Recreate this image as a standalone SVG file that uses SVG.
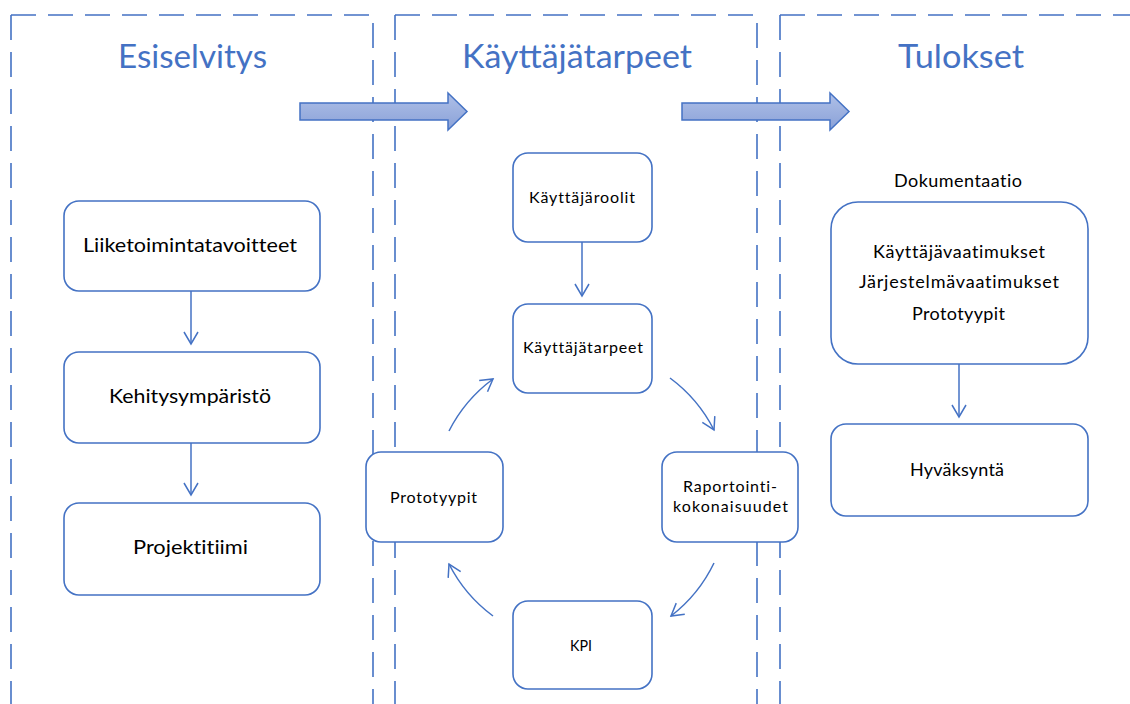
<svg xmlns="http://www.w3.org/2000/svg" width="1130" height="704" viewBox="0 0 1130 704">
  <style>
    .frame { fill: none; stroke: #4472C4; stroke-width: 1.6; stroke-dasharray: 25 12; }
    .title { font-family: Lato, "Liberation Sans", sans-serif; font-size: 32px; fill: #4472C4; text-anchor: middle; }
    .box { fill: #FFFFFF; stroke: #4472C4; stroke-width: 1.6; }
    .lbl { font-family: Lato, "Liberation Sans", sans-serif; fill: #000000; text-anchor: middle; font-variant-ligatures: none; }
    .big { font-size: 20px; }
    .mid { font-size: 18px; }
    .sm { font-size: 16px; }
    .conn { fill: none; stroke: #4472C4; stroke-width: 1.5; marker-end: url(#vhead); }
    .block { fill: url(#blockfill); stroke: #4472C4; stroke-width: 1.5; }
  </style>
  <defs>
    <marker id="vhead" markerUnits="userSpaceOnUse" markerWidth="20" markerHeight="20" refX="0" refY="0" orient="auto" overflow="visible" viewBox="-15 -10 20 20">
      <path d="M-12,-7 L0,0 L-12,7" fill="none" stroke="#4472C4" stroke-width="1.5" stroke-linejoin="miter"/>
    </marker>
    <linearGradient id="blockfill" x1="0" y1="0" x2="0" y2="1">
      <stop offset="0" stop-color="#AFC0E8"/>
      <stop offset="1" stop-color="#8AA1D7"/>
    </linearGradient>
  </defs>

  <rect x="0" y="0" width="1130" height="704" fill="#FFFFFF"/>

  <g id="frames">
    <path class="frame" d="M11,15 V704"/>
    <path class="frame" d="M11,15 H373 V704"/>
    <path class="frame" d="M395,15 V704"/>
    <path class="frame" d="M395,15 H757 V704"/>
    <path class="frame" d="M780,15 V704"/>
    <path class="frame" d="M780,15 H1130"/>
  </g>

  <g id="titles">
    <text class="title" x="192.5" y="68" textLength="149" lengthAdjust="spacingAndGlyphs">Esiselvitys</text>
    <text class="title" x="577" y="68" textLength="230" lengthAdjust="spacingAndGlyphs">Käyttäjätarpeet</text>
    <text class="title" x="961" y="68" textLength="126" lengthAdjust="spacingAndGlyphs">Tulokset</text>
  </g>

  <g id="block-arrows">
    <path class="block" d="M300,103 H448 V93 L467,111.5 L448,130 V120 H300 Z"/>
    <path class="block" d="M682,103 H830 V93 L849,111.5 L830,130 V120 H682 Z"/>
  </g>

  <g id="n-liiketoimintatavoitteet">
    <rect class="box" x="64" y="201" width="256" height="90" rx="15"/>
    <text class="lbl big" x="190" y="252" textLength="214" lengthAdjust="spacingAndGlyphs">Liiketoimintatavoitteet</text>
  </g>
  <g id="n-kehitysymparisto">
    <rect class="box" x="64" y="352" width="256" height="91" rx="15"/>
    <text class="lbl big" x="190" y="403" textLength="162" lengthAdjust="spacingAndGlyphs">Kehitysympäristö</text>
  </g>
  <g id="n-projektitiimi">
    <rect class="box" x="64" y="503" width="256" height="92" rx="15"/>
    <text class="lbl big" x="190.5" y="554" textLength="115" lengthAdjust="spacingAndGlyphs">Projektitiimi</text>
  </g>

  <g id="n-kayttajaroolit">
    <rect class="box" x="513" y="153" width="139" height="89" rx="15"/>
    <text class="lbl sm" x="582" y="203" textLength="106" lengthAdjust="spacing">Käyttäjäroolit</text>
  </g>
  <g id="n-kayttajatarpeet">
    <rect class="box" x="513" y="304" width="139" height="89" rx="15"/>
    <text class="lbl sm" x="583" y="353" textLength="120" lengthAdjust="spacing">Käyttäjätarpeet</text>
  </g>
  <g id="n-prototyypit">
    <rect class="box" x="366" y="452" width="137" height="90" rx="15"/>
    <text class="lbl sm" x="433.5" y="503" textLength="87" lengthAdjust="spacing">Prototyypit</text>
  </g>
  <g id="n-raportointi">
    <rect class="box" x="662" y="452" width="136" height="90" rx="15"/>
    <text class="lbl sm" x="730" y="492" textLength="94" lengthAdjust="spacing">Raportointi-</text>
    <text class="lbl sm" x="730.5" y="512" textLength="115" lengthAdjust="spacing">kokonaisuudet</text>
  </g>
  <g id="n-kpi">
    <rect class="box" x="513" y="601" width="139" height="88" rx="15"/>
    <text class="lbl sm" x="581" y="651" textLength="22" lengthAdjust="spacingAndGlyphs">KPI</text>
  </g>

  <g id="n-dokumentaatio">
    <text class="lbl mid" x="958" y="187" textLength="128" lengthAdjust="spacing">Dokumentaatio</text>
    <rect class="box" x="831" y="202" width="257" height="162" rx="27"/>
    <text class="lbl mid" x="959" y="258" textLength="172" lengthAdjust="spacing">Käyttäjävaatimukset</text>
    <text class="lbl mid" x="959" y="288" textLength="200" lengthAdjust="spacing">Järjestelmävaatimukset</text>
    <text class="lbl mid" x="958.5" y="320" textLength="93" lengthAdjust="spacing">Prototyypit</text>
  </g>
  <g id="n-hyvaksynta">
    <rect class="box" x="831" y="424" width="257" height="92" rx="15"/>
    <text class="lbl mid" x="957" y="476" textLength="94" lengthAdjust="spacing">Hyväksyntä</text>
  </g>

  <g id="connectors">
    <path class="conn" d="M191,291 V344"/>
    <path class="conn" d="M191,443 V495"/>
    <path class="conn" d="M582,242 V296"/>
    <path class="conn" d="M959,364 V417"/>
    <path class="conn" d="M449,431 A148,148 0 0,1 493,379"/>
    <path class="conn" d="M670,378 A148,148 0 0,1 714,430"/>
    <path class="conn" d="M714,563 A148,148 0 0,1 671,616"/>
    <path class="conn" d="M493,616 A148,148 0 0,1 449,564"/>
  </g>
</svg>
